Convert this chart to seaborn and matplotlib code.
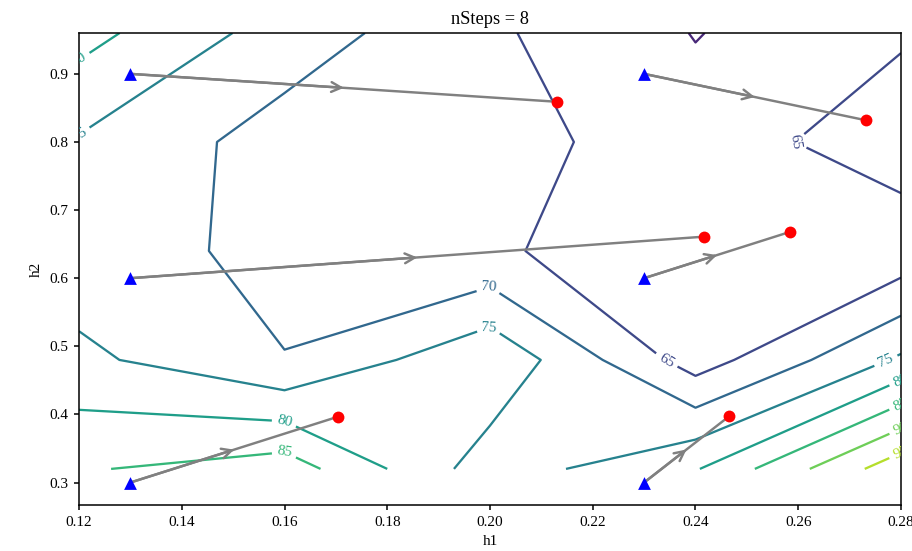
import numpy as np
import pandas as pd
import matplotlib
matplotlib.use("Agg")
import matplotlib.pyplot as plt
import seaborn as sns

# ---- data ----
h1_grid = [0.12, 0.16, 0.20, 0.24, 0.28]
h2_grid = [0.32, 0.48, 0.64, 0.80, 0.96]
z_row_032 = [84.5, 87.7, 72.3, 79.6, 98.3]
z_row_048 = [76.2, 70.1, 79.1, 62.5, 75.8]
z_row_064 = [71.65, 69.04, 65.5, 62.6, 61.5]
z_row_080 = [74.5, 67.8, 67.0, 62.1, 68.1]
z_row_096 = [81.8, 72.7, 65.8, 59.8, 64.3]
levels = [55, 60, 65, 70, 75, 80, 85, 90, 95, 100]

start_h1 = [0.13, 0.13, 0.13, 0.23, 0.23, 0.23]
start_h2 = [0.30, 0.60, 0.90, 0.30, 0.60, 0.90]
end_h1 = [0.1704, 0.2417, 0.2131, 0.2465, 0.2584, 0.2731]
end_h2 = [0.3966, 0.661, 0.859, 0.397, 0.668, 0.832]

title = "nSteps = 8"

# where the contour labels sit (layout only)
label_spots = [(0.2344, 0.48), (0.2594, 0.80), (0.1998, 0.585),
               (0.12, 0.811), (0.1998, 0.528), (0.2770, 0.48),
               (0.12, 0.92), (0.1600, 0.391), (0.28, 0.45),
               (0.1600, 0.3455), (0.28, 0.414), (0.28, 0.38), (0.28, 0.343)]

# ---- style ----
sns.set_style("ticks", {"axes.edgecolor": "black", "xtick.color": "black",
                        "ytick.color": "black", "axes.labelcolor": "black",
                        "text.color": "black"})
plt.rcParams["font.family"] = ["Liberation Serif", "DejaVu Serif"]
plt.rcParams["axes.linewidth"] = 1.0
plt.rcParams["xtick.major.width"] = 1.0
plt.rcParams["ytick.major.width"] = 1.0
plt.rcParams["xtick.major.size"] = 3.5
plt.rcParams["ytick.major.size"] = 3.5
plt.rcParams["font.size"] = 10

dpi = 110
fig = plt.figure(figsize=(912 / dpi, 551 / dpi), dpi=dpi)
ax = fig.add_axes([79 / 912, 1 - 505 / 551, (901 - 79) / 912, (505 - 33) / 551])

Z = np.array([z_row_032, z_row_048, z_row_064, z_row_080, z_row_096])
H1, H2 = np.meshgrid(h1_grid, h2_grid)
cs = ax.contour(H1, H2, Z, levels=levels, cmap="viridis", linewidths=1.5, zorder=1)
ax.set_xlim(0.12, 0.28)
ax.set_ylim(0.267, 0.96)
texts = ax.clabel(cs, inline=True, fontsize=10, manual=label_spots)
for t in ax.texts:
    t.set_clip_on(True)

for sx, sy, ex, ey in zip(start_h1, start_h2, end_h1, end_h2):
    ax.plot([sx, ex], [sy, ey], color="gray", lw=1.6, zorder=3)
    ax.annotate("", xy=((sx + ex) / 2, (sy + ey) / 2), xytext=(sx, sy),
                arrowprops=dict(arrowstyle="->", color="gray", lw=1.6,
                                mutation_scale=16, shrinkA=0, shrinkB=0),
                zorder=3)

start_df = pd.DataFrame({"h1": start_h1, "h2": start_h2})
end_df = pd.DataFrame({"h1": end_h1, "h2": end_h2})
sns.scatterplot(data=start_df, x="h1", y="h2", marker="^", color="blue",
                s=70, edgecolor="blue", linewidth=0, ax=ax, zorder=4)
sns.scatterplot(data=end_df, x="h1", y="h2", marker="o", color="red",
                s=60, edgecolor="red", linewidth=0, ax=ax, zorder=4)

ax.set_xlim(0.12, 0.28)
ax.set_ylim(0.267, 0.96)
ax.set_xticks([0.12, 0.14, 0.16, 0.18, 0.20, 0.22, 0.24, 0.26, 0.28])
ax.set_yticks([0.3, 0.4, 0.5, 0.6, 0.7, 0.8, 0.9])
ax.set_xlabel("h1", fontsize=10)
ax.set_ylabel("h2", fontsize=10)
ax.set_title(title, fontsize=12)
for sp in ax.spines.values():
    sp.set_visible(True)

fig.savefig("out.png", dpi=dpi)
